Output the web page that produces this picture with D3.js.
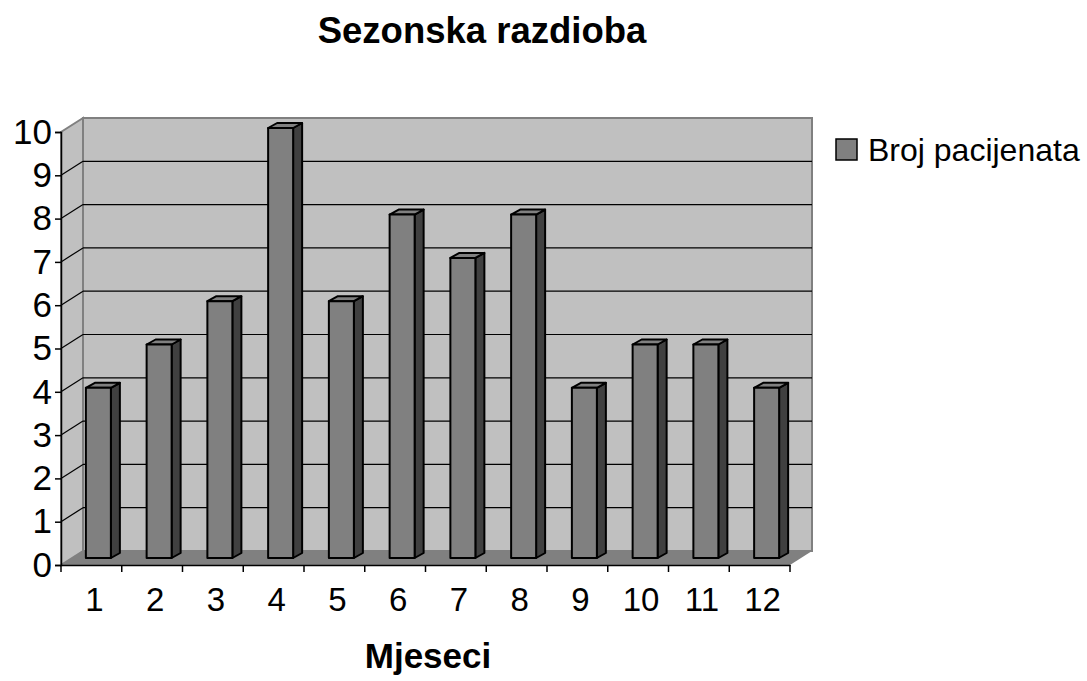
<!DOCTYPE html>
<html>
<head>
<meta charset="utf-8">
<script src="https://cdn.jsdelivr.net/npm/d3@7"></script>
<style>
  body { margin: 0; background: #fff; }
  text { font-family: Arial, "Liberation Sans", sans-serif; }
</style>
</head>
<body>
<div id="chart"></div>
<script>
const months = ['1', '2', '3', '4', '5', '6', '7', '8', '9', '10', '11', '12'];
const patients = [4, 5, 6, 10, 6, 8, 7, 8, 4, 5, 5, 4];
const yTicks = [0, 1, 2, 3, 4, 5, 6, 7, 8, 9, 10];

const width = 1087, height = 681;
const depth = {dx: 22, dy: -14};      // wall depth
const barDepth = {dx: 9, dy: -5};     // bar thickness

const x = d3.scaleBand()
    .domain(months)
    .range([61, 790]);

const y = d3.scaleLinear()
    .domain([0, 10])
    .range([565, 132]);

const svg = d3.select('#chart').append('svg')
    .attr('width', width).attr('height', height);

const x0 = x.range()[0], x1 = x.range()[1];

// back wall
svg.append('rect')
    .attr('x', x0 + depth.dx).attr('y', y(10) + depth.dy)
    .attr('width', x1 - x0).attr('height', y(0) - y(10))
    .attr('fill', '#c0c0c0').attr('stroke', '#808080').attr('stroke-width', 2);

// side wall
svg.append('path')
    .attr('d', `M${x0},${y(0)}L${x0},${y(10)}L${x0 + depth.dx},${y(10) + depth.dy}L${x0 + depth.dx},${y(0) + depth.dy}Z`)
    .attr('fill', '#c0c0c0').attr('stroke', '#808080').attr('stroke-width', 2);

// floor
svg.append('path')
    .attr('d', `M${x0},${y(0)}L${x1},${y(0)}L${x1 + depth.dx},${y(0) + depth.dy}L${x0 + depth.dx},${y(0) + depth.dy}Z`)
    .attr('fill', '#808080');

// gridlines: back wall + side wall
const grid = svg.append('g').attr('stroke', '#000').attr('stroke-width', 1.2);
yTicks.filter(d => d > 0 && d < 10).forEach(d => {
  grid.append('line')
      .attr('x1', x0 + depth.dx).attr('x2', x1 + depth.dx)
      .attr('y1', y(d) + depth.dy).attr('y2', y(d) + depth.dy);
  grid.append('line')
      .attr('x1', x0).attr('x2', x0 + depth.dx)
      .attr('y1', y(d)).attr('y2', y(d) + depth.dy);
});

// bars sit at mid depth
const bars = svg.append('g').attr('stroke', '#000').attr('stroke-width', 2).attr('stroke-linejoin', 'round');
const bw = 25;
patients.forEach((v, i) => {
  const m = months[i];
  const left = x(m) + x.bandwidth() / 2 - 5.5;
  const base = y(0) + depth.dy / 2;
  const top = base - (y(0) - y(v)) + 3;
  const r = left + bw;
  // side
  bars.append('path')
      .attr('d', `M${r},${base}L${r},${top}L${r + barDepth.dx},${top + barDepth.dy}L${r + barDepth.dx},${base + barDepth.dy}Z`)
      .attr('fill', '#404040');
  // top
  bars.append('path')
      .attr('d', `M${left},${top}L${r},${top}L${r + barDepth.dx},${top + barDepth.dy}L${left + barDepth.dx},${top + barDepth.dy}Z`)
      .attr('fill', '#808080');
  // front
  bars.append('rect')
      .attr('x', left).attr('y', top)
      .attr('width', bw).attr('height', base - top)
      .attr('fill', '#808080');
});

// axes
const yAxis = d3.axisLeft(y)
    .tickValues(yTicks)
    .tickSize(6)
    .tickPadding(3);
const gy = svg.append('g').attr('transform', `translate(${x0},0)`).call(yAxis);
gy.select('.domain').attr('stroke', '#000').attr('stroke-width', 1.5);
gy.selectAll('.tick line').attr('stroke', '#000').attr('stroke-width', 1.5);
gy.selectAll('.tick text').attr('font-size', 35).attr('fill', '#000')
    .attr('font-family', 'Arial, "Liberation Sans", sans-serif');

const xAxis = d3.axisBottom(x)
    .tickSize(0)
    .tickPadding(23);
const gx = svg.append('g').attr('transform', `translate(0,${y(0)})`).call(xAxis);
gx.select('.domain').attr('stroke', '#000').attr('stroke-width', 1.5);
gx.selectAll('.tick text').attr('font-size', 33).attr('fill', '#000').attr('dx', 3)
    .attr('font-family', 'Arial, "Liberation Sans", sans-serif');
// boundary ticks between categories
gx.selectAll('.boundary')
    .data(months.map(m => x(m)).concat([x1]))
    .enter().append('line')
    .attr('x1', d => d).attr('x2', d => d)
    .attr('y1', 0).attr('y2', 7)
    .attr('stroke', '#000').attr('stroke-width', 1.5);

// title
svg.append('text')
    .attr('x', 482).attr('y', 43)
    .attr('text-anchor', 'middle')
    .attr('font-size', 36.5).attr('font-weight', 'bold')
    .text('Sezonska razdioba');

// x-axis title
svg.append('text')
    .attr('x', 428).attr('y', 668)
    .attr('text-anchor', 'middle')
    .attr('font-size', 35).attr('font-weight', 'bold')
    .text('Mjeseci');

// legend
svg.append('rect')
    .attr('x', 836).attr('y', 139)
    .attr('width', 21).attr('height', 21)
    .attr('fill', '#808080').attr('stroke', '#000').attr('stroke-width', 1.5);
svg.append('text')
    .attr('x', 868).attr('y', 161)
    .attr('font-size', 32)
    .text('Broj pacijenata');
</script>
</body>
</html>
